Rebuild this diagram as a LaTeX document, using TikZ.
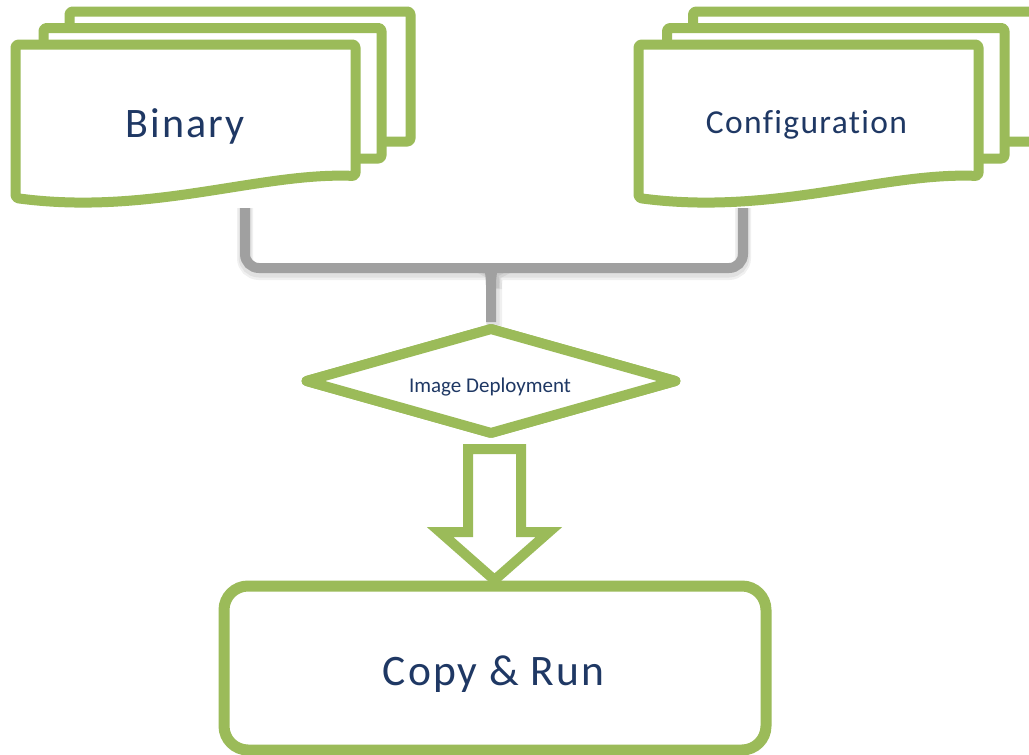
\documentclass[tikz,border=0pt]{standalone}
\usepackage{fontspec}
\setmainfont{Carlito}[Ligatures=NoCommon]
\usetikzlibrary{shapes.geometric}
\definecolor{leaf}{RGB}{155,187,89}
\definecolor{ink}{RGB}{31,56,100}
\definecolor{bracegray}{RGB}{160,160,160}
\tikzset{
  docline/.style={draw=leaf, line width=10pt, fill=white, line join=round, rounded corners=3pt},
  braceline/.style={draw=bracegray, line width=10pt, line cap=butt},
  braceshade/.style={draw=black, opacity=0.06, line width=13pt},
  blockarrow/.style={draw=leaf, line width=10pt, fill=white, line join=miter},
  txt/.style={text=ink, inner sep=0pt, anchor=base},
}
\begin{document}
\begin{tikzpicture}[x=1pt, y=-1pt]
\clip (0,0) rectangle (1029,755);
\fill[white] (0,0) rectangle (1029,755);

% --- stacked pages: Binary ---
\path[docline] (69.5,11.5) rectangle (410.5,141.5);
\path[docline] (43.5,28) rectangle (381.5,158.5);
\path[docline] (15.5,44.5) -- (355.5,44.5) -- (355.5,176)
  .. controls (260,172) and (150,216) .. (15.5,198) -- cycle;
\node[txt, font=\fontsize{42}{50}\selectfont\addfontfeatures{LetterSpace=5}] (binary) at (185.5,137) {Binary};

% --- stacked pages: Configuration ---
\begin{scope}[xshift=623pt]
\path[docline] (70,11.5) rectangle (412,141.5);
\path[docline] (44,28) rectangle (381.5,158.5);
\path[docline] (15.5,44.5) -- (355.5,44.5) -- (355.5,176)
  .. controls (260,172) and (150,216) .. (15.5,198) -- cycle;
\end{scope}
\node[txt, font=\fontsize{33.5}{40}\selectfont\addfontfeatures{LetterSpace=4}] (config) at (806.5,133) {Configuration};

% --- brace joining both inputs ---
\coordinate (binfoot) at (245,208);
\coordinate (cfgfoot) at (743,208);
\node[diamond, draw=leaf, line width=10pt, fill=white, minimum width=373pt,
      minimum height=108pt, inner sep=0pt, line join=round] (deploy) at (491,381) {};

% soft shadow under the brace
\foreach \d/\w in {3/16, 2/13} {
  \begin{scope}[shift={(\d,\d+1)}]
  \draw[braceshade, line width=\w pt] (binfoot) [rounded corners=14pt] |- (478,268) [sharp corners]
    .. controls (488,268) and (491,273) .. (491,285) -- (491,322);
  \draw[braceshade, line width=\w pt] (cfgfoot) [rounded corners=14pt] |- (504,268) [sharp corners]
    .. controls (494,268) and (491,273) .. (491,285);
  \end{scope}
}
\draw[braceline] (binfoot) [rounded corners=14pt] |- (478,268) [sharp corners]
  .. controls (488,268) and (491,273) .. (491,285) -- (deploy.north);
\draw[braceline] (cfgfoot) [rounded corners=14pt] |- (504,268) [sharp corners]
  .. controls (494,268) and (491,273) .. (491,285);
% diamond drawn again over the stem end
\node[diamond, draw=leaf, line width=10pt, fill=white, minimum width=373pt,
      minimum height=108pt, inner sep=0pt, line join=round] at (deploy) {};
\node[txt, font=\fontsize{21}{25}\selectfont] (deploytext) at (490,392) {Image Deployment};

% --- result box ---
\node[draw=leaf, line width=11pt, fill=white, rounded corners=24pt, minimum width=542pt,
      minimum height=164pt, inner sep=0pt] (run) at (495,668) {};
\node[txt, font=\fontsize{43.5}{52}\selectfont\addfontfeatures{LetterSpace=4.6}] (runtext) at (493.5,685) {Copy \& Run};

% --- block arrow from deployment to result ---
\draw[blockarrow] (468,449) -- (521,449) -- (521,532) -- (549,532) -- (494.5,580)
  -- (440,532) -- (468,532) -- cycle;
\end{tikzpicture}
\end{document}
